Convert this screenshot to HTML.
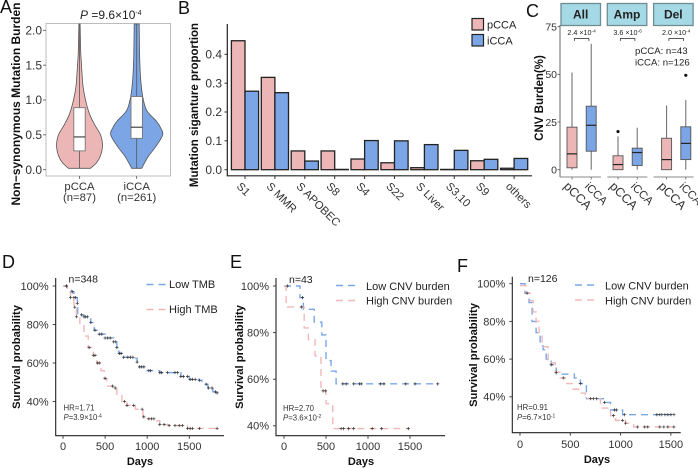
<!DOCTYPE html>
<html lang="en">
<head>
<meta charset="utf-8">
<title>Mutation burden, CNV burden and survival panels</title>
<style>
html,body{margin:0;padding:0;background:#fff;width:698px;height:468px;overflow:hidden}
svg{display:block;font-family:"Liberation Sans",Arial,sans-serif}
.letter{font-size:18px;fill:#111}
.title{font-weight:bold;fill:#111}
.tick{fill:#333}
</style>
</head>
<body>
<svg id="fig" xmlns="http://www.w3.org/2000/svg" width="698" height="468" viewBox="0 0 698 468">
<rect x="0" y="0" width="698" height="468" fill="#fff"/>
<text class="letter" x="0" y="13">A</text>
<text class="letter" x="178" y="14">B</text>
<text class="letter" x="526" y="17">C</text>
<text class="letter" x="2" y="268">D</text>
<text class="letter" x="230" y="268">E</text>
<text class="letter" x="457" y="272">F</text>

<text x="80" y="19" font-size="12" fill="#222"><tspan font-style="italic">P</tspan> =9.6×10<tspan font-size="7" dy="-4">-4</tspan></text>
<text class="title" font-size="12" text-anchor="middle" transform="translate(20,104) rotate(-90)">Non−synonymous Mutation Burden</text>
<text class="title" font-size="11.5" text-anchor="middle" transform="translate(198,105) rotate(-90)">Mutation siganture proportion</text>
<text class="title" font-size="11.5" text-anchor="middle" transform="translate(543,98) rotate(-90)">CNV Burden(%)</text>

<rect x="472" y="18.5" width="11.5" height="11.5" fill="#ecb6b6" stroke="#222" stroke-width="1.2"/>
<text x="487" y="28.5" font-size="11" fill="#222">pCCA</text>
<rect x="472" y="34.5" width="11.5" height="11.5" fill="#7ba5e4" stroke="#222" stroke-width="1.2"/>
<text x="487" y="44.5" font-size="11" fill="#222">iCCA</text>

<text x="635" y="54" font-size="9.6" fill="#222">pCCA: n=43</text>
<text x="635" y="65.5" font-size="9.6" fill="#222">iCCA: n=126</text>

<text class="title" font-size="11.2" text-anchor="middle" transform="translate(20,357) rotate(-90)">Survival probability</text>
<text class="title" font-size="11.2" text-anchor="middle" transform="translate(243,357) rotate(-90)">Survival probability</text>
<text class="title" font-size="11.2" text-anchor="middle" transform="translate(477,355) rotate(-90)">Survival probability</text>
<text class="title" font-size="11" text-anchor="middle" x="140" y="465">Days</text>
<text class="title" font-size="11" text-anchor="middle" x="361" y="465">Days</text>
<text class="title" font-size="11" text-anchor="middle" x="597" y="463">Days</text>

<text x="68.5" y="282.5" font-size="10.5" fill="#222">n=348</text>
<text x="289" y="283" font-size="10.5" fill="#222">n=43</text>
<text x="528" y="282" font-size="10.5" fill="#222">n=126</text>

<text x="63.5" y="410.5" font-size="7.8" fill="#333">HR=1.71</text>
<text x="63.5" y="420" font-size="7.8" fill="#333"><tspan font-style="italic">P</tspan>=3.9×10<tspan font-size="5" dy="-2.5">-4</tspan></text>
<text x="283" y="411" font-size="7.8" fill="#333">HR=2.70</text>
<text x="283" y="420.5" font-size="7.8" fill="#333"><tspan font-style="italic">P</tspan>=3.6×10<tspan font-size="5" dy="-2.5">-2</tspan></text>
<text x="517" y="410" font-size="7.8" fill="#333">HR=0.91</text>
<text x="517" y="420" font-size="7.8" fill="#333"><tspan font-style="italic">P</tspan>=6.7×10<tspan font-size="5" dy="-2.5">-1</tspan></text>

<text x="169" y="288" font-size="11" fill="#222">Low TMB</text>
<text x="169" y="313" font-size="11" fill="#222">High TMB</text>
<text x="366" y="290" font-size="11" fill="#222">Low CNV burden</text>
<text x="366" y="304.5" font-size="11" fill="#222">High CNV burden</text>
<text x="605" y="289.5" font-size="11" fill="#222">Low CNV burden</text>
<text x="605" y="304.5" font-size="11" fill="#222">High CNV burden</text>
<line x1="146.5" x2="165.5" y1="284.5" y2="284.5" stroke="#7ba7e8" stroke-width="1.4" stroke-dasharray="7,5"/>
<line x1="146.5" x2="165.5" y1="309.5" y2="309.5" stroke="#f2b8b8" stroke-width="1.4" stroke-dasharray="7,5"/>
<line x1="336" x2="355" y1="285.5" y2="285.5" stroke="#7ba7e8" stroke-width="1.4" stroke-dasharray="7,5"/>
<line x1="336" x2="355" y1="300.5" y2="300.5" stroke="#f2b8b8" stroke-width="1.4" stroke-dasharray="7,5"/>
<line x1="575" x2="594" y1="285" y2="285" stroke="#7ba7e8" stroke-width="1.4" stroke-dasharray="7,5"/>
<line x1="575" x2="594" y1="300" y2="300" stroke="#f2b8b8" stroke-width="1.4" stroke-dasharray="7,5"/>
</svg>

<script>
/* Panel A: violin data */
const violinGroups = ['pCCA', 'iCCA'];
const violinCounts = ['(n=87)', '(n=261)'];
const violinTicks = [0, 0.5, 1, 1.5, 2];
const violinLevels = [[0.02, 0.1, 0.2, 0.35, 0.5, 0.65, 0.8, 1.0, 1.2, 1.5, 1.7, 2.09], [0.02, 0.1, 0.2, 0.33, 0.5, 0.6, 0.7, 0.85, 1.05, 1.3, 1.6, 2.09]];
const violinDensity = [[11, 17, 21, 23, 21, 15, 10, 6, 3.5, 2, 1.2, 0.6], [5, 8, 12, 19, 26, 24, 19.5, 10, 6, 4, 3, 2.5]];
const violinQ1 = [0.27, 0.45];
const violinMedian = [0.47, 0.61];
const violinQ3 = [0.89, 1.05];

/* Panel B: mutation signature bars */
const signatures = ['S1', 'S MMR', 'S APOBEC', 'S8', 'S4', 'S22', 'S Liver', 'S3,10', 'S9', 'others'];
const signaturePcca = [0.447, 0.32, 0.065, 0.065, 0.037, 0.024, 0.007, 0.001, 0.031, 0.005];
const signatureIcca = [0.272, 0.267, 0.03, 0.001, 0.101, 0.1, 0.087, 0.067, 0.036, 0.039];
const signatureTicks = [0, 0.1, 0.2, 0.3, 0.4];

/* Panel C: CNV boxplots */
const cnvFacets = ['All', 'Amp', 'Del'];
const cnvPvalues = ['2.4', '3.6', '2.0'];
const cnvExponents = ['-4', '-6', '-4'];
const cnvTicks = [0, 25, 50, 75];
const cnvLow = [[0, 0], [0, 0], [0, 0]];
const cnvQ1 = [[1, 9.7], [0, 2.2], [0, 5.3]];
const cnvMedian = [[8.3, 23.3], [2.7, 9], [5.3, 13.8]];
const cnvQ3 = [[22.3, 33.3], [7.3, 11.3], [16.5, 22.5]];
const cnvHigh = [[51, 66], [17.5, 22], [33.7, 36.5]];
const cnvOutliers = [[null, null], [20, null], [null, 49.5]];

/* Panels D-F: survival curves */
const survivalXTicks = [0, 500, 1000, 1500];
const survivalYTicks = [100, 80, 60, 40];
const dLowDays = [0, 50, 100, 130, 170, 175, 250, 330, 370, 430, 500, 600, 640, 660, 720, 850, 880, 900, 1000, 1150, 1350, 1400, 1500, 1620, 1650, 1720, 1780, 1830];
const dLowSurv = [100, 99, 97, 94, 91, 85, 84, 81, 77, 75, 73, 71, 68, 65, 63, 62.5, 60.5, 58, 56, 55, 55, 53, 51.5, 51, 49, 47, 45, 44.5];
const dHighDays = [0, 50, 90, 130, 160, 200, 250, 300, 360, 400, 450, 490, 520, 600, 640, 700, 760, 860, 950, 1000, 1100, 1150, 1250, 1400, 1480, 1830];
const dHighSurv = [100, 97, 94, 89, 84, 80, 74, 68, 64, 60, 56, 52, 48, 47, 43, 40, 38, 36, 32, 31, 30, 28, 27.5, 27.5, 26, 26];
const dLowCensor = [40, 110, 130, 150, 170, 220, 250, 270, 290, 330, 380, 430, 460, 500, 530, 560, 600, 620, 640, 670, 690, 720, 770, 800, 830, 880, 910, 930, 960, 1020, 1040, 1150, 1170, 1240, 1330, 1360, 1400, 1430, 1480, 1510, 1540, 1570, 1620, 1700, 1730, 1770, 1810, 1830];
const dHighCensor = [40, 90, 140, 160, 310, 360, 380, 410, 430, 500, 590, 620, 730, 760, 840, 940, 960, 1020, 1050, 1080, 1150, 1200, 1260, 1330, 1380, 1420, 1480, 1510, 1540, 1620, 1830];

const eLowDays = [0, 190, 230, 360, 450, 500, 560, 620, 1830];
const eLowSurv = [100, 95, 90, 84.5, 79, 68, 63.5, 58, 58];
const eHighDays = [0, 25, 240, 290, 370, 440, 500, 580, 1480];
const eHighSurv = [100, 91, 82, 77, 70, 55, 49.5, 38.8, 38.8];
const eLowCensor = [40, 220, 700, 740, 830, 900, 920, 1150, 1190, 1450, 1560, 1830];
const eHighCensor = [210, 465, 495, 680, 710, 770, 830, 1050, 1160, 1480];

const fLowDays = [0, 50, 90, 120, 160, 200, 230, 260, 310, 360, 440, 540, 600, 660, 840, 900, 1020, 1530];
const fLowSurv = [100, 95, 90, 80, 74, 67, 65, 60, 57, 52, 52, 50, 47, 39, 37, 33, 30.5, 30.5];
const fHighDays = [0, 60, 100, 130, 160, 190, 220, 280, 350, 400, 450, 520, 600, 650, 800, 900, 950, 1050, 1130, 1530];
const fHighSurv = [99, 95, 91, 85, 80, 73, 66.5, 58, 53, 50, 47, 44, 42, 39, 34, 30, 27.5, 26, 24, 24];
const fLowCensor = [70, 310, 600, 730, 760, 840, 940, 960, 1040, 1360, 1390, 1410, 1440, 1470, 1500, 1530];
const fHighCensor = [360, 430, 700, 930, 1020, 1050, 1170, 1240, 1270, 1390, 1430, 1470, 1530];

const NS = 'http://www.w3.org/2000/svg';
const svg = document.getElementById('fig');
const PINK = '#ecb6b6', BLUE = '#7ba5e4', INK = '#222';
function make(tag, attrs, text) {
  const n = document.createElementNS(NS, tag);
  for (const k in attrs) n.setAttribute(k, attrs[k]);
  if (text !== undefined) n.textContent = text;
  svg.appendChild(n);
  return n;
}
/* Smooth curve through an ordered list of [x, y] points (Catmull-Rom to Bezier). */
function smooth(points) {
  let d = '';
  for (let i = 0; i < points.length - 1; i++) {
    const p0 = points[Math.max(i - 1, 0)], p1 = points[i], p2 = points[i + 1], p3 = points[Math.min(i + 2, points.length - 1)];
    const c1x = p1[0] + (p2[0] - p0[0]) / 6, c1y = p1[1] + (p2[1] - p0[1]) / 6;
    const c2x = p2[0] - (p3[0] - p1[0]) / 6, c2y = p2[1] - (p3[1] - p1[1]) / 6;
    d += 'C' + c1x + ' ' + c1y + ' ' + c2x + ' ' + c2y + ' ' + p2[0] + ' ' + p2[1];
  }
  return d;
}

/* ---------- Panel A ---------- */
const ax = i => [79.5, 136.7][i];
const ay = v => 169.7 - v * 69.7;
let node = make('rect', {x: 46, y: 23.5, width: 124.5, height: 152.5, fill: 'none', stroke: '#bdbdbd', 'stroke-width': 1});


violinTicks.forEach(t => {
  const line = make('line', {x1: 43, x2: 46, y1: ay(t), y2: ay(t), stroke: '#555', 'stroke-width': 0.8});
  
  
  const label = make('text', {x: 42, y: ay(t) + 4.2, 'font-size': 12, 'text-anchor': 'end', class: 'tick'}, t.toFixed(1));
  
  
});
violinGroups.forEach((g, i) => {
  const cx = ax(i);
  const lv = violinLevels[i], den = violinDensity[i];
  const rightSide = lv.map((v, k) => [cx + den[k], ay(v)]);
  const leftSide = lv.map((v, k) => [cx - den[k], ay(v)]).reverse();
  const outline = 'M' + rightSide[0][0] + ' ' + rightSide[0][1] + smooth(rightSide) + 'L' + leftSide[0][0] + ' ' + leftSide[0][1] + smooth(leftSide) + 'Z';
  const body = make('path', {d: outline, fill: i ? BLUE : PINK, stroke: '#555', 'stroke-width': 0.8, 'stroke-linejoin': 'round'});
  
  
  const whisker = make('line', {x1: cx, x2: cx, y1: ay(0.02), y2: ay(2.09), stroke: '#555', 'stroke-width': 0.8});
  
  
  const box = make('rect', {x: cx - 5.7, y: ay(violinQ3[i]), width: 11.4, height: ay(violinQ1[i]) - ay(violinQ3[i]), fill: '#fff', stroke: '#777', 'stroke-width': 0.9});
  
  
  const med = make('line', {x1: cx - 5.7, x2: cx + 5.7, y1: ay(violinMedian[i]), y2: ay(violinMedian[i]), stroke: '#222', 'stroke-width': 1});
  
  
  const tick = make('line', {x1: cx, x2: cx, y1: 176, y2: 179, stroke: '#555', 'stroke-width': 0.8});
  
  
  const label = make('text', {x: cx, y: 190, 'font-size': 11.3, 'text-anchor': 'middle', class: 'tick'}, g);
  
  
  const count = make('text', {x: cx, y: 201, 'font-size': 11.3, 'text-anchor': 'middle', class: 'tick'}, violinCounts[i]);
  
  
});

/* ---------- Panel B ---------- */
const bx = i => 245 + i * 29.9;
const by = v => 169.7 - v * 288.5;
signatureTicks.forEach(t => {
  const line = make('line', {x1: 224.5, x2: 227.5, y1: by(t), y2: by(t), stroke: '#333', 'stroke-width': 1});
  
  
  const label = make('text', {x: 222, y: by(t) + 4.2, 'font-size': 12, 'text-anchor': 'end', class: 'tick'}, t.toFixed(1));
  
  
});
signatures.forEach((s, i) => {
  const c = bx(i);
  const barP = make('rect', {x: c - 13.6, y: by(signaturePcca[i]), width: 13.6, height: by(0) - by(signaturePcca[i]), fill: PINK, stroke: '#222', 'stroke-width': 1.3});
  
  
  const barI = make('rect', {x: c, y: by(signatureIcca[i]), width: 13.6, height: by(0) - by(signatureIcca[i]), fill: BLUE, stroke: '#222', 'stroke-width': 1.3});
  
  
  const tick = make('line', {x1: c, x2: c, y1: 176, y2: 179, stroke: '#333', 'stroke-width': 1});
  
  
  const lx = c - 9, ly = 187;
  const label = make('text', {x: 0, y: 0, 'font-size': 11.2, class: 'tick', transform: 'translate(' + lx + ',' + ly + ') rotate(45)'}, s);
  
  
});
node = make('path', {d: 'M227.3 24V175.8H532', fill: 'none', stroke: '#222', 'stroke-width': 1.2});



/* ---------- Panel C ---------- */
const facetLeft = f => 561 + f * 46.3;
const cy = v => 169.7 - v * 1.907;
const boxX = (f, g) => facetLeft(f) + 11 + g * 19.2 + [0, -0.3, 2][f];
node = make('line', {x1: 560, x2: 560, y1: 25, y2: 177, stroke: '#666', 'stroke-width': 1});


cnvTicks.forEach(t => {
  const line = make('line', {x1: 557.5, x2: 560, y1: cy(t), y2: cy(t), stroke: '#555', 'stroke-width': 0.8});
  
  
  const label = make('text', {x: 557, y: cy(t) + 3.8, 'font-size': 10.5, 'text-anchor': 'end', class: 'tick'}, t);
  
  
});
cnvFacets.forEach((facet, f) => {
  const left = facetLeft(f);
  const strip = make('rect', {x: left, y: 3.5, width: 39.5, height: 22, fill: '#a6d9e6', stroke: '#6f8c92', 'stroke-width': 1.3});
  
  
  const stripText = make('text', {x: left + 19.7, y: 18.5, 'font-size': 12, 'font-weight': 'bold', 'text-anchor': 'middle', fill: '#222'}, facet);
  
  
  const baseline = make('line', {x1: f ? left : 560, x2: left + 40, y1: 177, y2: 177, stroke: '#888', 'stroke-width': 1});
  
  
  const x0 = boxX(f, 0) + 2.3, x1 = boxX(f, 1) - 2.3;
  const bracket = make('path', {d: 'M' + x0 + ' 41V38.5H' + x1 + 'V41', fill: 'none', stroke: '#222', 'stroke-width': 0.7});
  
  
  const p = make('text', {x: (x0 + x1) / 2, y: 35, 'font-size': 7.2, 'text-anchor': 'middle', fill: '#222'}, cnvPvalues[f] + ' ×10');
  
  
  const sup = document.createElementNS(NS, 'tspan');
  sup.setAttribute('font-size', '4.8');
  sup.setAttribute('dy', '-2.5');
  sup.textContent = cnvExponents[f];
  p.appendChild(sup);
  [0, 1].forEach(g => {
    const c = boxX(f, g);
    const name = facet.toLowerCase() + (g ? '-icca' : '-pcca');
    const whisker = make('line', {x1: c, x2: c, y1: cy(cnvLow[f][g]), y2: cy(cnvHigh[f][g]), stroke: '#666', 'stroke-width': 1});
    
    
    const box = make('rect', {x: c - 5, y: cy(cnvQ3[f][g]), width: 10, height: cy(cnvQ1[f][g]) - cy(cnvQ3[f][g]), fill: g ? BLUE : PINK, stroke: '#555', 'stroke-width': 0.9});
    
    
    const med = make('line', {x1: c - 5, x2: c + 5, y1: cy(cnvMedian[f][g]), y2: cy(cnvMedian[f][g]), stroke: '#222', 'stroke-width': 1.2});
    
    
    if (cnvOutliers[f][g] !== null) {
      const dot = make('circle', {cx: c, cy: cy(cnvOutliers[f][g]), r: 1.6, fill: '#111'});
      
      
    }
    const tick = make('line', {x1: c, x2: c, y1: 177, y2: 179.5, stroke: '#666', 'stroke-width': 0.8});
    
    
    const label = make('text', {x: 0, y: 0, 'font-size': g ? 11.3 : 12.5, class: 'tick', transform: 'translate(' + (c - (g ? 7 : 9)) + ',187) rotate(45)'}, g ? 'iCCA' : 'pCCA');
    
    
  });
});

/* ---------- Panels D-F ---------- */
function stepValue(days, surv, d) {
  let s = surv[0];
  for (let i = 0; i < days.length; i++) { if (days[i] <= d) s = surv[i]; }
  return s;
}
function stepPath(days, surv, sx, sy) {
  let d = 'M' + sx(days[0]) + ' ' + sy(surv[0]);
  for (let i = 1; i < days.length; i++) {
    d += 'H' + sx(days[i]) + 'V' + sy(surv[i]);
  }
  return d;
}
function drawSurvival(panel, box, x0, xPer500, y100, yPer20, labelY, low, high) {
  const sx = d => x0 + d / 500 * xPer500;
  const sy = s => y100 + (100 - s) / 20 * yPer20;
  const axes = make('path', {d: 'M' + box.left + ' ' + box.top + 'V' + box.bottom + 'H' + box.right, fill: 'none', stroke: '#222', 'stroke-width': 1.1});
  
  
  survivalYTicks.forEach(t => {
    const line = make('line', {x1: box.left - 3, x2: box.left, y1: sy(t), y2: sy(t), stroke: '#333', 'stroke-width': 0.9});
    
    
    const label = make('text', {x: box.left - 7, y: sy(t) + 3.9, 'font-size': 11, 'text-anchor': 'end', class: 'tick'}, t + '%');
    
    
  });
  survivalXTicks.forEach(t => {
    const line = make('line', {x1: sx(t), x2: sx(t), y1: box.bottom, y2: box.bottom + 3, stroke: '#333', 'stroke-width': 0.9});
    
    
    const label = make('text', {x: sx(t), y: labelY, 'font-size': 11, 'text-anchor': 'middle', class: 'tick'}, t);
    
    
  });
  const lowLine = make('path', {d: stepPath(low.days, low.surv, sx, sy), fill: 'none', stroke: '#7ba7e8', 'stroke-width': 1.4, 'stroke-dasharray': '7,5'});
  
  
  const highLine = make('path', {d: stepPath(high.days, high.surv, sx, sy), fill: 'none', stroke: '#f2b8b8', 'stroke-width': 1.4, 'stroke-dasharray': '7,5'});
  
  
  [low, high].forEach(series => {
    series.censor.forEach(d => {
      const x = sx(d), y = sy(stepValue(series.days, series.surv, d));
      const mark = make('path', {d: 'M' + (x - 1.6) + ' ' + y + 'H' + (x + 1.6) + 'M' + x + ' ' + (y - 1.6) + 'V' + (y + 1.6), stroke: '#333', 'stroke-width': 0.7, fill: 'none'});
      
      
    });
  });
}
drawSurvival('d', {left: 55.7, right: 224, top: 278, bottom: 435.7}, 63, 42.1, 286, 38.5, 450,
  {days: dLowDays, surv: dLowSurv, censor: dLowCensor}, {days: dHighDays, surv: dHighSurv, censor: dHighCensor});
drawSurvival('e', {left: 276, right: 445, top: 278, bottom: 435.7}, 284, 42, 286, 46.6, 450,
  {days: eLowDays, surv: eLowSurv, censor: eLowCensor}, {days: eHighDays, surv: eHighSurv, censor: eHighCensor});
drawSurvival('f', {left: 512.3, right: 680.7, top: 276.7, bottom: 432.7}, 520, 50.3, 283.7, 37.7, 448,
  {days: fLowDays, surv: fLowSurv, censor: fLowCensor}, {days: fHighDays, surv: fHighSurv, censor: fHighCensor});
</script>
</body>
</html>
